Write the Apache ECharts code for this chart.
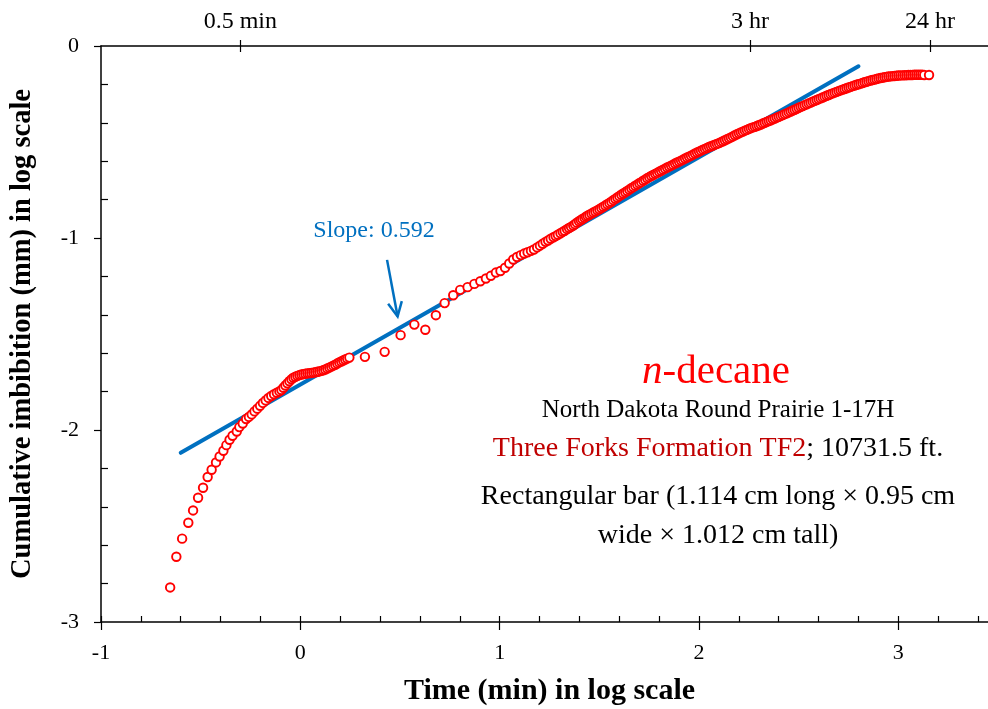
<!DOCTYPE html>
<html><head><meta charset="utf-8">
<script src="https://cdn.jsdelivr.net/npm/echarts@6/dist/echarts.min.js"></script>
<style>html,body{margin:0;padding:0;background:#fff}#c{width:988px;height:709px}</style>
</head><body><div id="c"></div>
<script>
// ---------- data (log10 of time in min, log10 of cumulative imbibition in mm) ----------
const earlyLogT = [-0.653,-0.622,-0.593,-0.562,-0.538,-0.513,-0.488,-0.465,-0.445,-0.423,-0.405,-0.386,-0.371,-0.355,-0.340,-0.319,-0.306,-0.289,-0.272];
const earlyLogI = [-2.820,-2.660,-2.566,-2.483,-2.419,-2.353,-2.301,-2.245,-2.207,-2.169,-2.138,-2.108,-2.079,-2.051,-2.030,-2.008,-1.985,-1.966,-1.943];

const transLogT = [-0.258,-0.244,-0.230,-0.216,-0.202,-0.188,-0.174,-0.160,-0.146,-0.132,-0.118,-0.105,-0.095,-0.085,-0.075,-0.065,-0.055,-0.045,-0.035,-0.025,-0.015,-0.005,0.005,0.015,0.025,0.035,0.045,0.055,0.065,0.075,0.085,0.095,0.105,0.115,0.125,0.135,0.145,0.155,0.165,0.175,0.185,0.195,0.205,0.215,0.225,0.235,0.246];
const transLogI = [-1.932,-1.919,-1.903,-1.889,-1.874,-1.859,-1.846,-1.833,-1.823,-1.814,-1.806,-1.799,-1.792,-1.780,-1.768,-1.757,-1.746,-1.736,-1.728,-1.723,-1.718,-1.714,-1.711,-1.709,-1.707,-1.705,-1.704,-1.703,-1.701,-1.699,-1.697,-1.695,-1.692,-1.689,-1.685,-1.680,-1.675,-1.670,-1.665,-1.660,-1.654,-1.648,-1.643,-1.638,-1.633,-1.628,-1.623];

const midLogT = [0.324,0.423,0.503,0.572,0.627,0.680,0.724,0.767,0.802,0.839,0.873,0.903,0.931,0.956,0.981];
const midLogI = [-1.619,-1.593,-1.506,-1.451,-1.478,-1.402,-1.339,-1.298,-1.270,-1.256,-1.239,-1.225,-1.211,-1.197,-1.180];

const lateLogT = [1.004,1.027,1.048,1.068,1.087,1.106,1.123,1.140,1.157,1.172,1.188,1.202,1.216,1.230,1.243,1.256,1.270,1.281,1.292,1.305,1.316,1.326,1.338,1.348,1.358,1.369,1.378,1.387,1.398,1.407,1.415,1.425,1.433,1.441,1.450];
const lateLogI = [-1.172,-1.155,-1.133,-1.112,-1.099,-1.089,-1.081,-1.074,-1.067,-1.060,-1.049,-1.040,-1.030,-1.020,-1.013,-1.004,-0.996,-0.990,-0.983,-0.975,-0.968,-0.962,-0.954,-0.948,-0.942,-0.935,-0.928,-0.920,-0.913,-0.907,-0.901,-0.895,-0.889,-0.884,-0.879];

const bandLogT = [1.46,1.47,1.48,1.49,1.50,1.51,1.52,1.53,1.54,1.55,1.56,1.57,1.58,1.59,1.60,1.61,1.62,1.63,1.64,1.65,1.66,1.67,1.68,1.69,1.70,1.71,1.72,1.73,1.74,1.75,1.76,1.77,1.78,1.79,1.80,1.81,1.82,1.83,1.84,1.85,1.86,1.87,1.88,1.89,1.90,1.91,1.92,1.93,1.94,1.95,1.96,1.97,1.98,1.99,2.00,2.01,2.02,2.03,2.04,2.05,2.06,2.07,2.08,2.09,2.10,2.11,2.12,2.13,2.14,2.15,2.16,2.17,2.18,2.19,2.20,2.21,2.22,2.23,2.24,2.25,2.26,2.27,2.28,2.29,2.30,2.31,2.32,2.33,2.34,2.35,2.36,2.37,2.38,2.39,2.40,2.41,2.42,2.43,2.44,2.45,2.46,2.47,2.48,2.49,2.50,2.51,2.52,2.53,2.54,2.55,2.56,2.57,2.58,2.59,2.60,2.61,2.62,2.63,2.64,2.65,2.66,2.67,2.68,2.69,2.70,2.71,2.72,2.73,2.74,2.75,2.76,2.77,2.78,2.79,2.80,2.81,2.82,2.83,2.84,2.85,2.86,2.87,2.88,2.89,2.90,2.91,2.92,2.93,2.94,2.95,2.96,2.97,2.98,2.99,3.00,3.01,3.02,3.03,3.04,3.05,3.06,3.07,3.08,3.09,3.10,3.11,3.12,3.13,3.154];
const bandLogI = [-0.873,-0.867,-0.862,-0.856,-0.850,-0.844,-0.837,-0.831,-0.824,-0.818,-0.811,-0.803,-0.796,-0.789,-0.782,-0.775,-0.768,-0.762,-0.755,-0.748,-0.741,-0.735,-0.728,-0.722,-0.715,-0.709,-0.702,-0.696,-0.689,-0.683,-0.677,-0.672,-0.666,-0.661,-0.655,-0.650,-0.644,-0.639,-0.633,-0.628,-0.623,-0.618,-0.612,-0.607,-0.602,-0.597,-0.592,-0.586,-0.581,-0.576,-0.571,-0.566,-0.560,-0.555,-0.550,-0.545,-0.540,-0.536,-0.531,-0.526,-0.522,-0.518,-0.514,-0.510,-0.506,-0.501,-0.496,-0.491,-0.486,-0.481,-0.476,-0.471,-0.465,-0.460,-0.455,-0.450,-0.446,-0.441,-0.437,-0.432,-0.428,-0.424,-0.421,-0.417,-0.413,-0.409,-0.404,-0.400,-0.395,-0.391,-0.387,-0.382,-0.378,-0.373,-0.369,-0.364,-0.360,-0.355,-0.351,-0.346,-0.341,-0.336,-0.332,-0.327,-0.322,-0.317,-0.313,-0.308,-0.304,-0.299,-0.295,-0.290,-0.286,-0.281,-0.277,-0.273,-0.268,-0.264,-0.259,-0.255,-0.251,-0.247,-0.243,-0.239,-0.235,-0.231,-0.227,-0.224,-0.220,-0.216,-0.213,-0.209,-0.206,-0.202,-0.199,-0.196,-0.193,-0.189,-0.186,-0.183,-0.180,-0.177,-0.175,-0.172,-0.169,-0.167,-0.165,-0.163,-0.161,-0.159,-0.158,-0.157,-0.156,-0.155,-0.154,-0.153,-0.153,-0.152,-0.152,-0.151,-0.151,-0.151,-0.150,-0.150,-0.150,-0.150,-0.150,-0.151,-0.151];

// fitted straight line (slope 0.592)
const fitLogT = [-0.6, 2.8];
const fitLogI = [-2.119, -0.106];

// top axis reference times
const topTickMinutes = [0.5, 180, 1440];
const topTickLabels = ['0.5 min', '3 hr', '24 hr'];

// annotation arrow (data coords)
const arrowFrom = [0.435, -1.114];
const arrowTo = [0.488, -1.409];

// ---------- chart ----------
const FONT = '"Liberation Serif", "Times New Roman", serif';
const allT = [].concat(earlyLogT, transLogT, midLogT, lateLogT, bandLogT);
const allI = [].concat(earlyLogI, transLogI, midLogI, lateLogI, bandLogI);
const pts = allT.map((t, i) => [t, allI[i]]);
const fitPts = fitLogT.map((t, i) => [t, fitLogI[i]]);
const topVals = topTickMinutes.map(m => Math.log10(m));

const chart = echarts.init(document.getElementById('c'), null, {renderer: 'canvas'});
const gridRect = {left: 101, top: 46, width: 897, height: 576, containLabel: false, outerBoundsMode: 'none'};
const black = '#000';

chart.setOption({
  animation: false,
  backgroundColor: '#fff',
  grid: [Object.assign({}, gridRect), Object.assign({}, gridRect)],
  xAxis: [
    { gridIndex: 0, type: 'value', position: 'bottom', min: -1, max: 3.5, interval: 1,
      axisLine: {show: true, onZero: false, lineStyle: {color: black, width: 1.5}},
      axisTick: {show: true, inside: false, length: 8, lineStyle: {color: black, width: 1.2}},
      minorTick: {show: false},
      splitLine: {show: false},
      axisLabel: {show: true, showMaxLabel: false, margin: 20, color: black, fontFamily: FONT, fontSize: 22},
      name: 'Time (min) in log scale', nameLocation: 'middle', nameGap: 54,
      nameTextStyle: {color: black, fontFamily: FONT, fontSize: 30, fontWeight: 'bold'} },
    { gridIndex: 0, type: 'value', position: 'top', min: -1, max: 3.5,
      axisLine: {show: true, onZero: false, lineStyle: {color: black, width: 1.5}},
      axisTick: {show: true, inside: false, length: 6, customValues: topVals, lineStyle: {color: black, width: 1.2}},
      splitLine: {show: false},
      axisLabel: {show: true, margin: 12, customValues: topVals, color: black, fontFamily: FONT, fontSize: 24,
        formatter: function (v) {
          let best = 0;
          topVals.forEach((tv, i) => { if (Math.abs(tv - v) < Math.abs(topVals[best] - v)) best = i; });
          return topTickLabels[best];
        } } },
    { gridIndex: 1, type: 'value', position: 'bottom', min: -1, max: 3.5, interval: 1,
      axisLine: {show: false, onZero: false},
      axisTick: {show: true, inside: true, length: 6, lineStyle: {color: black, width: 1.2}},
      minorTick: {show: true, splitNumber: 5, length: 6, lineStyle: {color: black, width: 1.2}},
      splitLine: {show: false}, axisLabel: {show: false} },
    { gridIndex: 1, type: 'value', position: 'top', min: -1, max: 3.5,
      axisLine: {show: false, onZero: false},
      axisTick: {show: true, inside: true, length: 6, customValues: topVals, lineStyle: {color: black, width: 1.2}},
      splitLine: {show: false}, axisLabel: {show: false} }
  ],
  yAxis: [
    { gridIndex: 0, type: 'value', position: 'left', min: -3, max: 0, interval: 1,
      axisLine: {show: true, onZero: false, lineStyle: {color: black, width: 1.5}},
      axisTick: {show: true, inside: false, length: 7, lineStyle: {color: black, width: 1.2}},
      minorTick: {show: false}, splitLine: {show: false},
      axisLabel: {show: true, margin: 22, color: black, fontFamily: FONT, fontSize: 22},
      name: 'Cumulative imbibition (mm) in log scale', nameLocation: 'middle', nameGap: 64,
      nameTextStyle: {color: black, fontFamily: FONT, fontSize: 28.5, fontWeight: 'bold'} },
    { gridIndex: 1, type: 'value', position: 'left', min: -3, max: 0, interval: 1,
      axisLine: {show: false, onZero: false},
      axisTick: {show: false, inside: true},
      minorTick: {show: true, splitNumber: 5, length: 7, lineStyle: {color: black, width: 1.2}},
      splitLine: {show: false}, axisLabel: {show: false} }
  ],
  series: [
    { type: 'line', xAxisIndex: 0, yAxisIndex: 0, data: fitPts, symbol: 'none', z: 2,
      lineStyle: {color: '#0070C0', width: 4, cap: 'round'} },
    { type: 'scatter', xAxisIndex: 0, yAxisIndex: 0, data: pts, symbol: 'circle', symbolSize: 8.5, z: 3,
      itemStyle: {color: '#ffffff', borderColor: '#ff0000', borderWidth: 1.9, opacity: 1} },
    { type: 'scatter', xAxisIndex: 2, yAxisIndex: 1, data: [] }
  ]
});

// annotations
const p0 = chart.convertToPixel({xAxisIndex: 0, yAxisIndex: 0}, arrowFrom);
const p1 = chart.convertToPixel({xAxisIndex: 0, yAxisIndex: 0}, arrowTo);
const ang = Math.atan2(p1[1] - p0[1], p1[0] - p0[0]);
const headLen = 16, headAng = 0.45;
const h1 = [p1[0] - headLen * Math.cos(ang - headAng), p1[1] - headLen * Math.sin(ang - headAng)];
const h2 = [p1[0] - headLen * Math.cos(ang + headAng), p1[1] - headLen * Math.sin(ang + headAng)];
const blue = '#0070C0';
const txtX = 718;

chart.setOption({
  graphic: [
    {type: 'line', z: 10, shape: {x1: p0[0], y1: p0[1], x2: p1[0], y2: p1[1]}, style: {stroke: blue, lineWidth: 2.5}},
    {type: 'polyline', z: 10, shape: {points: [h1, p1, h2]}, style: {stroke: blue, lineWidth: 2.5, fill: null}},
    {type: 'text', z: 10, x: 374, y: 231, style: {text: 'Slope: 0.592', fill: blue, font: '24px ' + FONT, align: 'center', verticalAlign: 'middle'}},
    {type: 'text', z: 10, x: txtX - 2, y: 372, style: {text: '{i|n}{r|-decane}', align: 'center', verticalAlign: 'middle',
      rich: {i: {fill: '#ff0000', fontFamily: FONT, fontSize: 41, fontStyle: 'italic'},
             r: {fill: '#ff0000', fontFamily: FONT, fontSize: 41}}}},
    {type: 'text', z: 10, x: txtX, y: 410, style: {text: 'North Dakota Round Prairie 1-17H', fill: black, font: '25px ' + FONT, align: 'center', verticalAlign: 'middle'}},
    {type: 'text', z: 10, x: txtX, y: 449, style: {text: '{a|Three Forks Formation TF2}{b|; 10731.5 ft.}', align: 'center', verticalAlign: 'middle',
      rich: {a: {fill: '#C00000', fontFamily: FONT, fontSize: 28}, b: {fill: black, fontFamily: FONT, fontSize: 28}}}},
    {type: 'text', z: 10, x: txtX, y: 497, style: {text: 'Rectangular bar (1.114 cm long × 0.95 cm', fill: black, font: '28px ' + FONT, align: 'center', verticalAlign: 'middle'}},
    {type: 'text', z: 10, x: txtX, y: 536, style: {text: 'wide × 1.012 cm tall)', fill: black, font: '28px ' + FONT, align: 'center', verticalAlign: 'middle'}}
  ]
});
</script></body></html>
